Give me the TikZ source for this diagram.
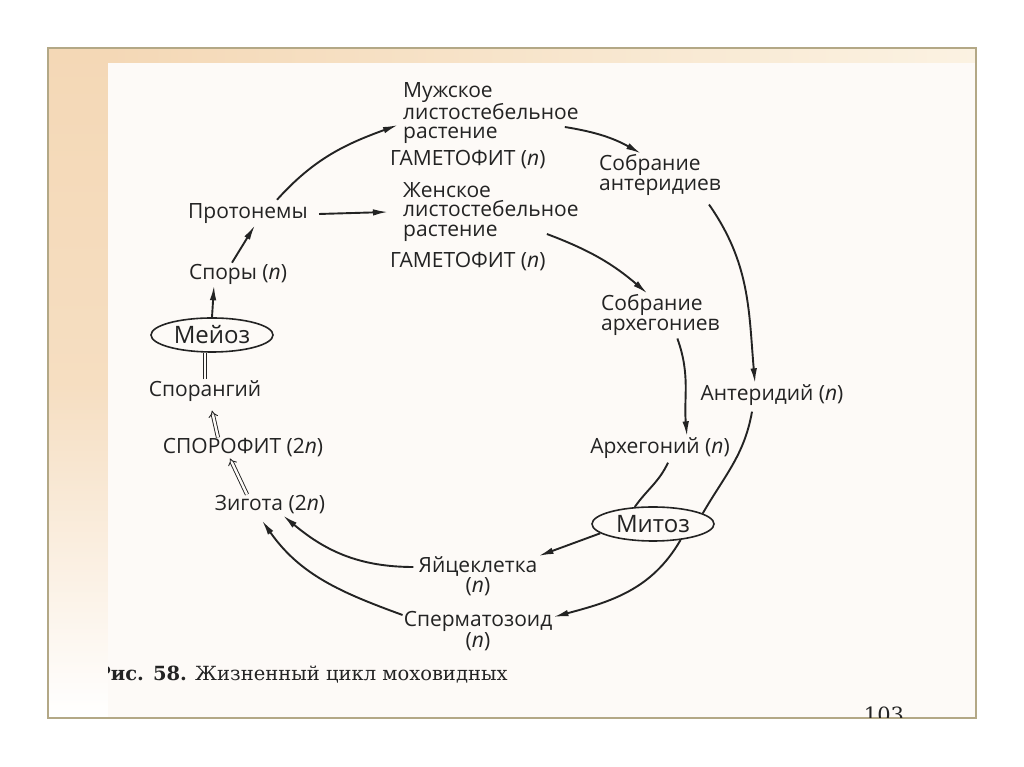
\documentclass[tikz,border=0pt]{standalone}
\usepackage{fontspec}
\usetikzlibrary{arrows.meta,shapes.geometric}
\newfontfamily\diafont{Open Sans}
\newfontfamily\capfont{DejaVu Serif}
\definecolor{inkc}{HTML}{232323}
\definecolor{peach}{HTML}{F4D8B6}
\definecolor{paper}{HTML}{FDFAF7}
\definecolor{framec}{HTML}{B3A886}
\definecolor{creamc}{HTML}{FBF2E2}
\begin{document}
\begin{tikzpicture}[x=1pt,y=1pt,>={Latex[length=15pt,width=6.5pt]},
  lbl/.style={inner sep=1pt,text=inkc,font=\diafont\fontsize{21}{19.5}\selectfont},
  blk/.style={lbl,align=left,anchor=west},
  oval/.style={lbl,ellipse,draw=inkc,line width=1.6pt,minimum width=122pt,minimum height=34pt,inner sep=0pt,
    font=\diafont\fontsize{24}{26}\selectfont},
  arr/.style={->,draw=inkc,line width=1.9pt},
  dbl/.style={draw=inkc,double=paper,double distance=2.4pt,line width=0.9pt}]
\useasboundingbox (0,0) rectangle (1024,767);
\fill[white] (0,0) rectangle (1024,767);
% page and frame
\shade[top color=peach,bottom color=white,middle color=peach!85] (48,49) rectangle (108,719);
\shade[left color=peach,right color=creamc] (108,704) rectangle (976,719);
\fill[paper] (108,49) rectangle (975,704);
\draw[framec,line width=2pt] (48,49) rectangle (976,719);
\begin{scope}
\clip (108,49) rectangle (975,704);
\node[anchor=west,inner sep=0pt,text=inkc,font=\capfont\fontsize{19.5}{22}\selectfont] (cap) at (96,92)
  {\textbf{Рис. 58.} Жизненный цикл моховидных};
\node[inner sep=0pt,text=inkc,font=\capfont\fontsize{21}{23}\selectfont] (pnum) at (884,52) {103};
\end{scope}
% labels
\node[blk] (muzh) at (402,654) {Мужское\\листостебельное\\растение};
\node[lbl,anchor=west] (gam1) at (389,607) {ГАМЕТОФИТ (\textit{n})};
\node[blk] (zhen) at (402,555) {Женское\\листостебельное\\растение};
\node[lbl,anchor=west] (gam2) at (389,505) {ГАМЕТОФИТ (\textit{n})};
\node[blk] (sobrA) at (598,592) {Собрание\\антеридиев};
\node[blk] (sobrR) at (600,452) {Собрание\\архегониев};
\node[lbl] (proton) at (248,553) {Протонемы};
\node[lbl] (spory) at (238,493) {Споры (\textit{n})};
\node[oval] (meioz) at (212,432) {Мейоз};
\node[lbl] (sporang) at (205,376) {Спорангий};
\node[lbl] (sporofit) at (243,319) {СПОРОФИТ (2\textit{n})};
\node[lbl] (zigota) at (270,262) {Зигота (2\textit{n})};
\node[lbl] (anter) at (772,372) {Антеридий (\textit{n})};
\node[lbl] (arheg) at (660,319) {Архегоний (\textit{n})};
\node[oval] (mitoz) at (653,243) {Митоз};
\node[lbl,align=center] (yaic) at (478,191) {Яйцеклетка\\(\textit{n})};
\node[lbl,align=center] (sperm) at (478,136) {Сперматозоид\\(\textit{n})};
% connectors
\draw[arr] ([xshift=29pt,yshift=3pt]proton.north) to[out=48,in=200] ([shift={(-4pt,-12pt)}]muzh.west);
\draw[arr] ([xshift=10pt]proton.east) -- ([xshift=-14pt]zhen.west);
\draw[arr] ([xshift=-6pt]spory.north) -- ([xshift=7pt]proton.south);
\draw[arr] (meioz.north) -- ([xshift=2pt]meioz.north |- spory.south);
\draw[dbl] (sporang.north) -- (sporang.north |- meioz.south);
\draw[dbl,-{Implies}] ([xshift=-25pt]sporofit.north) -- ([shift={(7pt,-8pt)}]sporang.south);
\draw[dbl,-{Implies}] ([xshift=-23pt]zigota.north) -- ([xshift=-13pt]sporofit.south);
\draw[arr] ([shift={(-15pt,-14pt)}]muzh.east) to[bend left=10] ([xshift=-19pt]sobrA.north);
\draw[arr] ([shift={(-33pt,-22pt)}]zhen.east) to[bend left=10] ([xshift=-13pt]sobrR.north);
\draw[arr] ([shift={(-13pt,-8pt)}]sobrA.south east) to[out=-55,in=95] ([xshift=-17pt]anter.north);
\draw[arr] ([shift={(17pt,-2pt)}]sobrR.south) to[out=-70,in=95] ([xshift=27pt]arheg.north);
\draw[draw=inkc,line width=1.9pt] ([shift={(8pt,-3pt)}]arheg.south) to[out=-115,in=55] (mitoz.137);
\draw[draw=inkc,line width=1.9pt] ([shift={(-20pt,-5pt)}]anter.south) to[out=-100,in=60] (mitoz.12);
\draw[arr] (mitoz.-30) to[out=-120,in=15] ([yshift=14pt]sperm.east);
\draw[arr] (mitoz.190) -- ([yshift=20pt]yaic.east);
\draw[arr] ([shift={(-4pt,9pt)}]yaic.west) to[out=180,in=-40] ([xshift=13pt]zigota.south);
\draw[arr] ([yshift=16pt]sperm.west) to[out=160,in=-55] ([shift={(-8pt,-5pt)}]zigota.south);
\end{tikzpicture}
\end{document}
